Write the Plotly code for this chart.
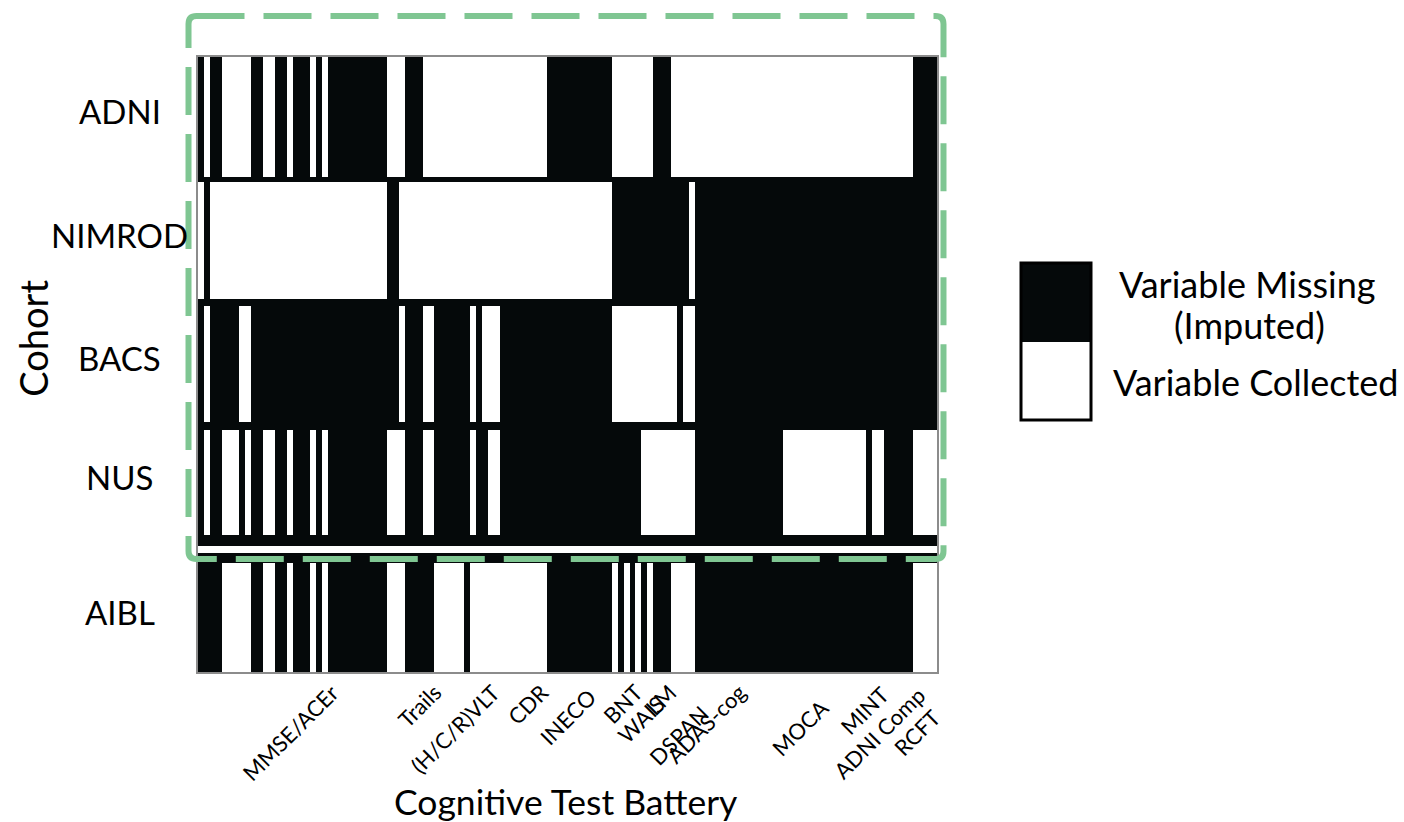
import plotly.graph_objects as go

# ---------------- data ----------------
n_cols = 125
cohorts = ["ADNI", "NIMROD", "BACS", "NUS", "AIBL"]

# run-length encoded missingness per cohort: (value, count); 1 = missing (imputed), 0 = collected
adni_runs = [(1, 1), (0, 1), (1, 2), (0, 5), (1, 2), (0, 2), (1, 2), (0, 1), (1, 3), (0, 1), (1, 1),
             (0, 1), (1, 10), (0, 3), (1, 3), (0, 21), (1, 11), (0, 7), (1, 3), (0, 41), (1, 4)]
nimrod_runs = [(0, 1), (1, 1), (0, 30), (1, 2), (0, 36), (1, 13), (0, 1), (1, 41)]
bacs_runs = [(1, 1), (0, 1), (1, 5), (0, 2), (1, 25), (0, 1), (1, 3), (0, 2), (1, 6), (0, 1), (1, 1),
             (0, 3), (1, 19), (0, 11), (1, 1), (0, 2), (1, 41)]
nus_runs = [(1, 1), (0, 1), (1, 2), (0, 3), (1, 1), (0, 1), (1, 2), (0, 2), (1, 2), (0, 1), (1, 3),
            (0, 1), (1, 1), (0, 1), (1, 10), (0, 3), (1, 3), (0, 2), (1, 6), (0, 1), (1, 2), (0, 2),
            (1, 24), (0, 9), (1, 15), (0, 14), (1, 1), (0, 2), (1, 5), (0, 4)]
aibl_runs = [(1, 4), (0, 5), (1, 2), (0, 2), (1, 2), (0, 1), (1, 3), (0, 1), (1, 1), (0, 1), (1, 10),
             (0, 3), (1, 5), (0, 5), (1, 1), (0, 13), (1, 11), (0, 1), (1, 1), (0, 1), (1, 1), (0, 1),
             (1, 1), (0, 1), (1, 3), (0, 4), (1, 37), (0, 4)]

test_labels = ["MMSE/ACEr", "Trails", "(H/C/R)VLT", "CDR", "INECO", "BNT", "WAIS", "LM", "DSPAN",
               "ADAS-cog", "MOCA", "MINT", "ADNI Comp", "RCFT"]
test_label_cols = [23.6, 41.0, 50.9, 59.0, 67.0, 75.1, 78.8, 80.8, 86.2, 92.5, 106.5, 116.6, 122.9, 125.4]

legend_labels = ["Variable Missing", "(Imputed)", "Variable Collected"]

# ---------------- layout constants ----------------
W, H = 1404, 822
L, R, T, B = 197.5, 937.5, 57, 672
PW, PH = R - L, B - T
FONT = "Lato"
BLACK = "#05090a"
GREEN = "#7fc692"

def px_x(px):
    return (px - L) / PW

def px_y(py):
    return (B - py) / PH

# vertical structure of the panel (pixel heights of each band, top to bottom)
row_order = ["ADNI", "sep", "NIMROD", "sep", "BACS", "sep", "NUS", "sep", "blank", "sep", "AIBL"]
row_px = [120, 5, 117, 7, 116, 8, 105, 11, 7, 10, 109]

# label placement (top pixel of the ink end of each rotated label)
label_top_px = [690, 690, 690, 690, 695, 690, 702, 690, 712, 690, 705, 692, 692, 715]

def expand(runs):
    out = []
    for v, c in runs:
        out.extend([v] * c)
    assert len(out) == n_cols, len(out)
    return out

cohort_rows = {
    "ADNI": expand(adni_runs),
    "NIMROD": expand(nimrod_runs),
    "BACS": expand(bacs_runs),
    "NUS": expand(nus_runs),
    "AIBL": expand(aibl_runs),
}

z = []
for name in row_order:
    if name == "sep":
        z.append([1] * n_cols)
    elif name == "blank":
        z.append([0] * n_cols)
    else:
        z.append(cohort_rows[name])

y_edges = [0]
for h in row_px:
    y_edges.append(y_edges[-1] + h)
x_edges = list(range(n_cols + 1))

fig = go.Figure()
fig.add_trace(go.Heatmap(
    z=z, x=x_edges, y=y_edges, zmin=0, zmax=1,
    colorscale=[[0, "#ffffff"], [0.5, "#ffffff"], [0.5, BLACK], [1, BLACK]],
    hoverinfo="skip",
    colorbar=dict(
        x=px_x(1022), xanchor="left", y=px_y(341.5), yanchor="middle",
        lenmode="pixels", len=157, thicknessmode="pixels", thickness=70,
        outlinewidth=3, outlinecolor="#000000", showticklabels=False, ticks="",
        xpad=0, ypad=0,
    ),
))

annotations = []
# cohort labels (centered)
for name in cohorts:
    i = row_order.index(name)
    yc = (y_edges[i] + y_edges[i + 1]) / 2
    annotations.append(dict(x=px_x(119), xref="paper", y=yc, yref="y", text=name,
                            showarrow=False, xanchor="center", yanchor="middle", yshift=6,
                            font=dict(family=FONT, size=33, color="#000")))
# test battery labels (column position -> paper fraction so labels past the last column stay visible)
for lab, col, top in zip(test_labels, test_label_cols, label_top_px):
    annotations.append(dict(x=col / n_cols, xref="paper", y=px_y(top), yref="paper", text=lab,
                            showarrow=False, xanchor="right", yanchor="top", textangle=-45,
                            xshift=9, yshift=14,
                            font=dict(family=FONT, size=22, color="#000")))
# axis titles
annotations.append(dict(x=px_x(566), xref="paper", y=px_y(801), yref="paper",
                        text="Cognitive Test Battery", showarrow=False,
                        xanchor="center", yanchor="middle",
                        font=dict(family=FONT, size=35.5, color="#000")))
annotations.append(dict(x=px_x(32), xref="paper", y=px_y(338), yref="paper",
                        text="Cohort", showarrow=False, textangle=-90,
                        xanchor="center", yanchor="middle",
                        font=dict(family=FONT, size=38, color="#000")))
# legend text
for lab, (cx, cy) in zip(legend_labels, [(1248, 284), (1250, 325), (1256, 382)]):
    annotations.append(dict(x=px_x(cx), xref="paper", y=px_y(cy), yref="paper", text=lab,
                            showarrow=False, xanchor="center", yanchor="middle",
                            font=dict(family=FONT, size=36, color="#000")))

# green dashed frame with slightly rounded corners
fx0, fx1, fy0, fy1 = px_x(188), px_x(944), px_y(559), px_y(16)
rx, ry = 8 / PW, 8 / PH
frame_path = (f"M {fx0 + rx},{fy1} L {fx1 - rx},{fy1} Q {fx1},{fy1} {fx1},{fy1 - ry} "
              f"L {fx1},{fy0 + ry} Q {fx1},{fy0} {fx1 - rx},{fy0} "
              f"L {fx0 + rx},{fy0} Q {fx0},{fy0} {fx0},{fy0 + ry} "
              f"L {fx0},{fy1 - ry} Q {fx0},{fy1} {fx0 + rx},{fy1} Z")

fig.update_layout(
    width=W, height=H,
    margin=dict(l=L, r=W - R, t=T, b=H - B, pad=0),
    paper_bgcolor="#ffffff", plot_bgcolor="#ffffff",
    xaxis=dict(range=[0, n_cols], showticklabels=False, ticks="", showgrid=False, zeroline=False,
               showline=True, mirror=True, linecolor="#8c8c8c", linewidth=1.5, fixedrange=True),
    yaxis=dict(range=[y_edges[-1], 0], showticklabels=False, ticks="", showgrid=False, zeroline=False,
               showline=True, mirror=True, linecolor="#8c8c8c", linewidth=1.5, fixedrange=True),
    annotations=annotations,
    shapes=[dict(type="path", xref="paper", yref="paper", path=frame_path,
                 line=dict(color=GREEN, width=6, dash="48px,19px"), layer="above")],
    showlegend=False,
)

fig.write_html("out.html", config={"displayModeBar": False},
               post_script="document.body.style.margin='0';document.body.style.overflow='hidden';")
